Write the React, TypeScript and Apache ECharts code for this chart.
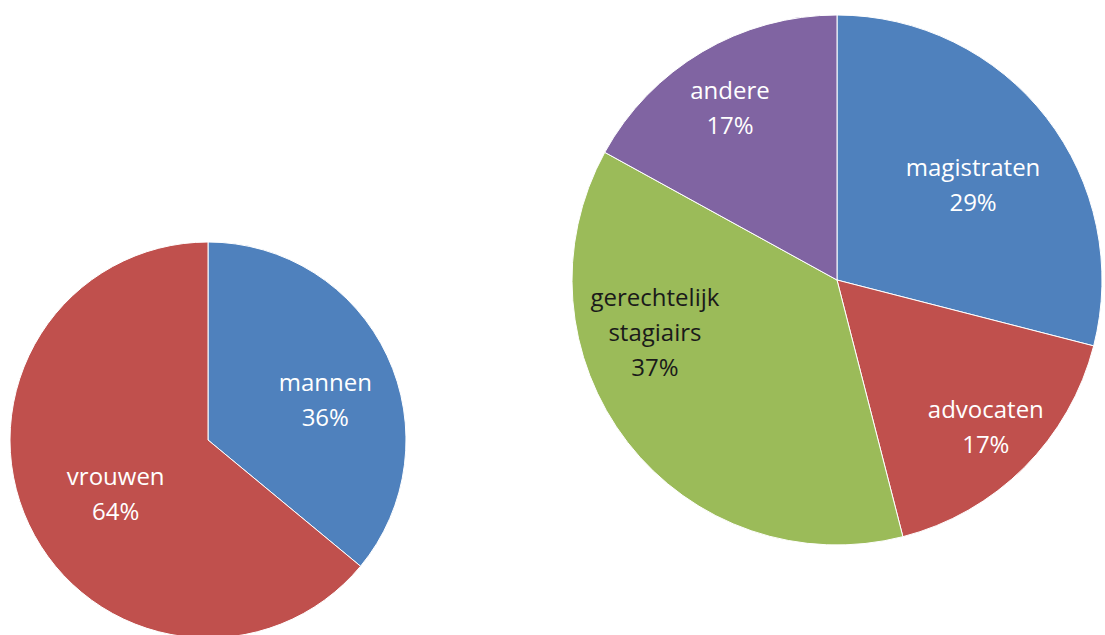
import React, { useEffect, useRef } from "react";
import * as echarts from "echarts";

const genderNames = ["mannen", "vrouwen"];
const genderValues = [36, 64];
const genderColors = ["#4F81BD", "#C0504D"];

const roleNames = ["magistraten", "advocaten", "gerechtelijk\nstagiairs", "andere"];
const roleValues = [29, 17, 37, 17];
const roleColors = ["#4F81BD", "#C0504D", "#9BBB59", "#8064A2"];
const roleLabelColors = ["#ffffff", "#ffffff", "#1a1a1a", "#ffffff"];

// label nudges relative to ECharts' default inside position (layout only)
const genderLabelShift = [[25, 2], [0, 10]];
const roleLabelShift = [[29, -13], [53, 50], [-75, -32], [-38, -56]];

export default function App() {
  const ref = useRef<HTMLDivElement>(null);
  useEffect(() => {
    document.body.style.margin = "0";
    const chart = echarts.init(ref.current!, null, { renderer: "svg" });
    const labelBase = {
      show: true,
      position: "inside",
      formatter: "{b}\n{c}%",
      fontFamily: "Open Sans",
      fontSize: 24,
      lineHeight: 35,
      color: "#ffffff",
    };
    chart.setOption({
      animation: false,
      backgroundColor: "#ffffff",
      series: [
        {
          type: "pie",
          center: [208, 440],
          radius: [0, 198],
          startAngle: 90,
          clockwise: true,
          silent: true,
          itemStyle: { borderColor: "#ffffff", borderWidth: 1 },
          label: labelBase,
          labelLine: { show: false },
          labelLayout: (p: any) => ({
            dx: genderLabelShift[p.dataIndex][0],
            dy: genderLabelShift[p.dataIndex][1],
          }),
          data: genderNames.map((n, i) => ({
            name: n,
            value: genderValues[i],
            itemStyle: { color: genderColors[i] },
          })),
        },
        {
          type: "pie",
          center: [837, 280],
          radius: [0, 265],
          startAngle: 90,
          clockwise: true,
          silent: true,
          itemStyle: { borderColor: "#ffffff", borderWidth: 1 },
          label: labelBase,
          labelLine: { show: false },
          labelLayout: (p: any) => ({
            dx: roleLabelShift[p.dataIndex][0],
            dy: roleLabelShift[p.dataIndex][1],
          }),
          data: roleNames.map((n, i) => ({
            name: n,
            value: roleValues[i],
            itemStyle: { color: roleColors[i] },
            label: { color: roleLabelColors[i] },
          })),
        },
      ],
    });
    return () => chart.dispose();
  }, []);
  return <div ref={ref} style={{ width: 1105, height: 635 }} />;
}
